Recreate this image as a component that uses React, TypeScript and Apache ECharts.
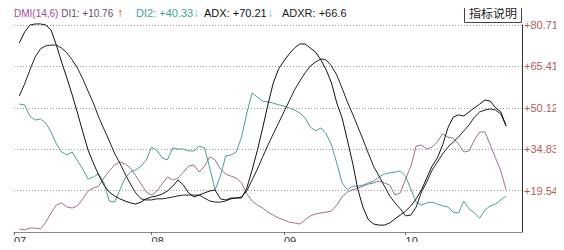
import React, { useEffect, useRef } from "react";
import * as echarts from "echarts";

// Period index (bi-weekly sample points); year labels placed at year starts
const periodCount = 97;
const yearStartIndex = [0, 26, 51, 74];
const yearLabels = ["07", "08", "09", "10"];

const yMin = 4.26;
const yMax = 80.71;
const yStep = 15.29;
const yTickLabels = ["", "+19.54", "+34.83", "+50.12", "+65.41", "+80.71"];

// header readouts
const headerName = "DMI(14,6)";
const headerDI1 = "+10.76";
const headerDI2 = "+40.33";
const headerADX = "+70.21";
const headerADXR = "+66.6";

// series values, starting at period 1
const di1 = [5.4, 5.0, 5.7, 5.7, 5.4, 7.9, 11.3, 14.2, 15.0, 13.5, 13.1, 13.9, 16.5, 19.4, 20.5, 21.2, 24.2, 26.8, 29.0, 30.1, 29.4, 27.9, 25.0, 22.0, 19.0, 17.9, 19.4, 22.0, 24.6, 23.5, 24.2, 26.4, 28.6, 29.0, 26.4, 28.6, 32.0, 30.9, 27.5, 25.7, 24.9, 24.2, 22.4, 18.3, 15.7, 14.2, 13.1, 11.6, 10.5, 9.4, 8.7, 7.9, 7.6, 7.2, 8.7, 10.2, 10.9, 11.3, 11.6, 12.0, 14.2, 17.2, 19.0, 19.8, 20.5, 21.2, 22.0, 22.4, 23.1, 22.4, 21.6, 17.9, 18.7, 23.8, 28.6, 36.0, 36.4, 34.9, 35.6, 37.5, 40.5, 39.3, 38.9, 36.8, 33.8, 34.2, 38.2, 41.2, 41.2, 36.4, 31.6, 26.8, 19.8];
const di2 = [51.5, 51.2, 47.1, 45.6, 46.0, 44.5, 41.2, 36.8, 33.8, 32.7, 33.8, 30.5, 27.5, 23.8, 24.6, 25.7, 22.4, 15.7, 15.3, 19.8, 24.2, 26.4, 27.2, 28.6, 30.9, 35.6, 34.5, 31.6, 30.9, 35.3, 34.9, 34.9, 34.2, 34.2, 36.0, 35.3, 27.9, 19.8, 24.9, 32.3, 32.7, 33.8, 39.3, 48.2, 55.6, 54.1, 52.6, 52.3, 51.9, 51.2, 50.8, 50.1, 49.3, 48.2, 46.4, 43.0, 41.6, 42.7, 40.5, 36.4, 29.7, 22.4, 19.8, 21.2, 21.2, 21.6, 22.4, 23.1, 24.6, 25.7, 26.1, 26.4, 26.8, 24.9, 20.1, 15.3, 14.2, 15.0, 15.3, 14.6, 13.9, 13.5, 11.6, 11.3, 15.7, 12.8, 11.3, 9.4, 12.4, 13.9, 14.6, 16.1, 17.6];
const adx = [74.1, 78.1, 80.7, 81.1, 81.1, 80.7, 78.9, 73.3, 67.0, 61.1, 54.9, 48.2, 41.2, 34.5, 29.7, 25.3, 21.6, 19.0, 17.6, 16.5, 15.7, 15.0, 14.6, 15.3, 16.5, 17.2, 17.6, 18.3, 19.4, 21.2, 23.5, 21.6, 18.7, 17.2, 17.9, 18.7, 19.4, 19.8, 16.5, 16.1, 16.8, 16.8, 16.8, 20.5, 27.2, 34.5, 42.7, 51.5, 59.3, 64.5, 67.4, 70.0, 72.2, 73.7, 73.7, 72.2, 70.7, 67.8, 64.1, 59.3, 51.9, 46.4, 38.2, 29.7, 19.8, 13.1, 8.7, 7.2, 6.8, 6.8, 7.6, 9.1, 10.5, 12.0, 13.9, 16.5, 19.8, 24.2, 28.6, 31.6, 36.4, 42.7, 46.7, 47.5, 47.1, 48.6, 50.1, 51.5, 53.0, 52.6, 50.1, 48.6, 43.4];
const adxr = [54.5, 58.9, 64.1, 68.9, 71.9, 73.0, 73.3, 73.3, 72.2, 70.4, 67.8, 64.8, 60.8, 56.3, 51.9, 46.7, 42.3, 37.9, 33.4, 29.7, 25.7, 22.0, 18.7, 16.5, 16.1, 16.1, 16.5, 16.5, 16.8, 17.2, 17.6, 17.9, 17.9, 17.9, 17.9, 16.8, 15.7, 15.3, 15.3, 15.7, 16.5, 16.8, 17.2, 19.4, 23.5, 27.5, 32.0, 36.4, 40.5, 44.5, 48.6, 52.6, 56.7, 60.0, 63.0, 65.6, 67.0, 68.2, 67.8, 65.6, 62.2, 57.4, 52.3, 47.8, 43.0, 38.2, 33.1, 28.3, 24.9, 21.2, 17.6, 15.0, 12.8, 10.2, 10.5, 13.5, 19.0, 22.7, 27.1, 30.1, 33.1, 35.6, 37.5, 39.3, 41.6, 43.8, 46.7, 48.6, 49.3, 49.7, 49.3, 47.8, 43.4];

const pad = (arr: number[]) => {
  const out: (number | null)[] = [null, ...arr];
  while (out.length < periodCount) out.push(null);
  return out;
};

export default function App() {
  const ref = useRef<HTMLDivElement>(null);
  useEffect(() => {
    if (!ref.current) return;
    const chart = echarts.init(ref.current, null, { renderer: "svg" });
    const categories = Array.from({ length: periodCount }, (_, i) => "p" + i);
    const isYear = (i: number) => yearStartIndex.indexOf(i) >= 0;
    const font = "'Liberation Sans', Arial, sans-serif";
    const lineBase = { type: "line", showSymbol: false, symbol: "none", clip: false, connectNulls: false, silent: true };
    const hText = (x: number, text: string, fill: string, extra: any = {}) => ({
      type: "text",
      silent: true,
      x,
      y: 13,
      style: { text, fill, fontSize: 11, fontFamily: font, verticalAlign: "middle", ...extra },
    });
    chart.setOption({
      animation: false,
      grid: { left: 14, right: 42, top: 25, bottom: 18, containLabel: false },
      xAxis: {
        type: "category",
        data: categories,
        boundaryGap: false,
        axisLine: { show: true, lineStyle: { color: "#8a8a8a", width: 1 } },
        axisTick: { show: true, length: 3, interval: (i: number) => isYear(i), lineStyle: { color: "#666" } },
        axisLabel: {
          show: true,
          interval: (i: number) => isYear(i),
          formatter: (_v: string, i: number) => {
            const k = yearStartIndex.indexOf(i);
            return k >= 0 ? yearLabels[k] : "";
          },
          align: "left",
          margin: 3,
          color: "#333",
          fontSize: 11,
          fontFamily: font,
        },
        splitLine: { show: false },
      },
      yAxis: {
        type: "value",
        position: "right",
        min: yMin,
        max: yMax,
        interval: yStep,
        axisLine: { show: true, lineStyle: { color: "#333", width: 1 } },
        axisTick: { show: false },
        axisLabel: {
          show: true,
          margin: 2,
          color: "#b25c5c",
          fontSize: 11,
          fontFamily: font,
          formatter: (v: number) => yTickLabels[Math.round((v - yMin) / yStep)] || "",
        },
        splitLine: { show: true, lineStyle: { color: "#a0a0a0", type: [1, 2], width: 1 } },
      },
      series: [
        { ...lineBase, name: "DI1", data: pad(di1), lineStyle: { color: "#9b7195", width: 1 } },
        { ...lineBase, name: "DI2", data: pad(di2), lineStyle: { color: "#4e9c9c", width: 1 } },
        { ...lineBase, name: "ADXR", data: pad(adxr), lineStyle: { color: "#222", width: 1 } },
        { ...lineBase, name: "ADX", data: pad(adx), lineStyle: { color: "#111", width: 1 } },
      ],
      graphic: [
        {
          type: "text",
          silent: true,
          x: 14,
          y: 13,
          style: {
            text: "{p|" + headerName + "} {m|DI1: " + headerDI1 + "}",
            fontSize: 10,
            fontFamily: font,
            verticalAlign: "middle",
            rich: {
              p: { fill: "#a04a9a", fontSize: 10, fontFamily: font },
              m: { fill: "#6a4a6a", fontSize: 10, fontFamily: font },
            },
          },
        },
        hText(117, "↑", "#c0392b", { fontWeight: "bold", fontSize: 12 }),
        hText(136, "DI2: " + headerDI2, "#45a0a0"),
        hText(193, "↓", "#6cc3e0", { fontWeight: "bold", fontSize: 12 }),
        hText(204, "ADX: " + headerADX, "#111"),
        hText(267, "↓", "#6cc3e0", { fontWeight: "bold", fontSize: 12 }),
        hText(282, "ADXR: " + headerADXR, "#222"),
        {
          type: "rect",
          silent: true,
          shape: { x: 464.5, y: 2.5, width: 57, height: 20 },
          style: { fill: "#fff", stroke: "#444", lineWidth: 1 },
        },
        {
          type: "text",
          silent: true,
          x: 493,
          y: 12.5,
          style: {
            text: "指标说明",
            fontSize: 12,
            fontFamily: "'Noto Sans CJK SC', sans-serif",
            fill: "#222",
            align: "center",
            verticalAlign: "middle",
          },
        },
      ],
    });
    return () => chart.dispose();
  }, []);
  return <div ref={ref} style={{ width: 564, height: 250, margin: -8 }} />;
}
